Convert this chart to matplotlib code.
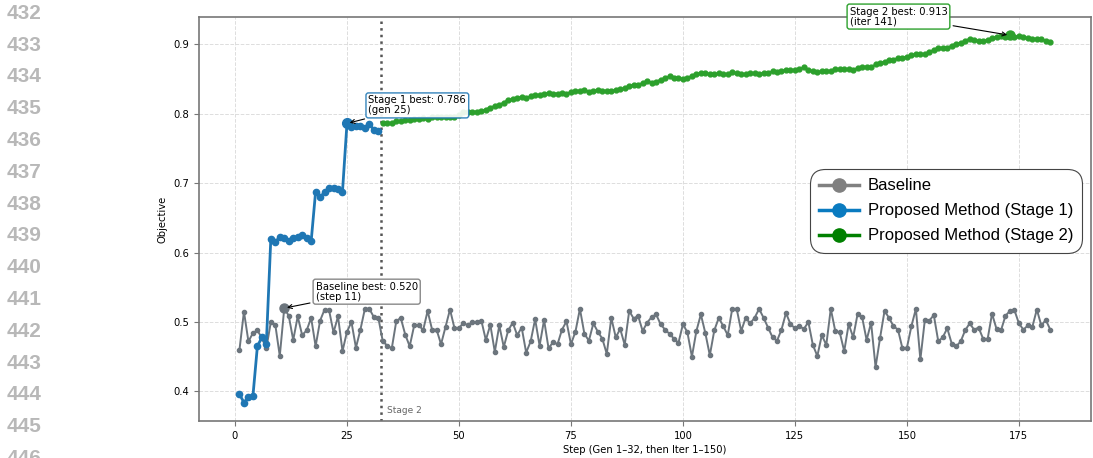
import numpy as np
import matplotlib
matplotlib.use("Agg")
import matplotlib.pyplot as plt
from matplotlib.lines import Line2D

# values
baseline = [
    0.460, 0.515, 0.472, 0.484, 0.488, 0.477, 0.462, 0.500, 0.496, 0.451,
    0.520, 0.509, 0.474, 0.508, 0.481, 0.488, 0.506, 0.465, 0.502, 0.518,
    0.517, 0.485, 0.508, 0.458, 0.486, 0.500, 0.463, 0.489, 0.519, 0.519,
    0.507, 0.506, 0.472, 0.466, 0.462, 0.501, 0.506, 0.482, 0.465, 0.495,
    0.496, 0.488, 0.516, 0.489, 0.489, 0.468, 0.493, 0.518, 0.491, 0.491,
    0.499, 0.495, 0.500, 0.500, 0.502, 0.474, 0.496, 0.457, 0.495, 0.464,
    0.488, 0.499, 0.481, 0.492, 0.456, 0.472, 0.504, 0.466, 0.503, 0.462,
    0.471, 0.468, 0.489, 0.501, 0.468, 0.486, 0.519, 0.483, 0.473, 0.498,
    0.486, 0.476, 0.454, 0.506, 0.478, 0.490, 0.467, 0.516, 0.505, 0.509,
    0.487, 0.499, 0.507, 0.511, 0.497, 0.489, 0.483, 0.476, 0.470, 0.497,
    0.485, 0.450, 0.487, 0.511, 0.484, 0.452, 0.488, 0.506, 0.494, 0.481,
    0.519, 0.519, 0.487, 0.506, 0.498, 0.506, 0.519, 0.506, 0.492, 0.478,
    0.473, 0.489, 0.513, 0.497, 0.491, 0.494, 0.490, 0.500, 0.467, 0.451,
    0.481, 0.467, 0.519, 0.487, 0.485, 0.458, 0.497, 0.478, 0.512, 0.507,
    0.474, 0.499, 0.435, 0.477, 0.516, 0.506, 0.494, 0.489, 0.462, 0.463,
    0.494, 0.519, 0.446, 0.503, 0.502, 0.510, 0.472, 0.478, 0.491, 0.469,
    0.465, 0.472, 0.488, 0.498, 0.489, 0.492, 0.476, 0.475, 0.512, 0.490,
    0.488, 0.509, 0.516, 0.517, 0.498, 0.489, 0.495, 0.493, 0.518, 0.495,
    0.503, 0.489,
]

stage1 = [
    0.396, 0.384, 0.392, 0.393, 0.465, 0.478, 0.469, 0.620, 0.615, 0.623,
    0.621, 0.616, 0.621, 0.623, 0.625, 0.621, 0.616, 0.688, 0.680, 0.687,
    0.693, 0.693, 0.691, 0.688, 0.786, 0.781, 0.783, 0.782, 0.779, 0.785,
    0.777, 0.775,
]

stage2 = [
    0.786, 0.786, 0.787, 0.789, 0.790, 0.791, 0.791, 0.792, 0.792, 0.794,
    0.793, 0.795, 0.795, 0.795, 0.796, 0.796, 0.796, 0.798, 0.802, 0.803,
    0.803, 0.803, 0.804, 0.806, 0.809, 0.811, 0.813, 0.816, 0.820, 0.821,
    0.823, 0.824, 0.823, 0.825, 0.827, 0.827, 0.828, 0.830, 0.829, 0.829,
    0.830, 0.828, 0.832, 0.833, 0.833, 0.834, 0.832, 0.833, 0.834, 0.833,
    0.833, 0.833, 0.834, 0.835, 0.837, 0.840, 0.842, 0.842, 0.844, 0.847,
    0.845, 0.846, 0.849, 0.851, 0.854, 0.852, 0.852, 0.850, 0.851, 0.855,
    0.857, 0.859, 0.858, 0.857, 0.857, 0.858, 0.857, 0.857, 0.860, 0.858,
    0.857, 0.857, 0.858, 0.858, 0.857, 0.859, 0.859, 0.861, 0.860, 0.862,
    0.863, 0.863, 0.863, 0.864, 0.867, 0.863, 0.861, 0.860, 0.861, 0.861,
    0.862, 0.864, 0.864, 0.864, 0.864, 0.863, 0.866, 0.867, 0.868, 0.867,
    0.871, 0.873, 0.875, 0.877, 0.878, 0.880, 0.881, 0.882, 0.884, 0.886,
    0.886, 0.886, 0.889, 0.892, 0.895, 0.895, 0.895, 0.898, 0.901, 0.902,
    0.905, 0.908, 0.906, 0.905, 0.905, 0.906, 0.909, 0.911, 0.912, 0.911,
    0.913, 0.911, 0.912, 0.910, 0.909, 0.908, 0.908, 0.907, 0.905, 0.903,
]

gutter_lines = list(range(432, 447))

n1 = len(stage1)
steps_all = np.arange(1, len(baseline) + 1)
steps1 = np.arange(1, n1 + 1)
steps2 = np.arange(n1 + 1, n1 + len(stage2) + 1)

c_base = '#6c757d'
c_s1 = '#1f77b4'
c_s2 = '#2ca02c'

fig = plt.figure(figsize=(10.93, 4.58), dpi=100)
ax = fig.add_axes([0.182, 0.081, 0.816, 0.882])

# editor line numbers on the left (the last one is cut by the bottom edge, as in the source)
for i, num in enumerate(gutter_lines):
    fig.text(0.006, 1 - (13.3 + 31.8 * i) / 458, str(num), ha='left', va='center',
             fontsize=15, fontweight='bold', color='#b8b8b8',
             family='Liberation Sans')

ax.plot(steps_all, baseline, color=c_base, lw=1.4, marker='o', ms=3, zorder=2)
ax.plot(steps1, stage1, color=c_s1, lw=2, marker='o', ms=4.5, zorder=3)
ax.plot(steps2, stage2, color=c_s2, lw=1.5, marker='o', ms=3.5, zorder=3)

ax.axvline(n1 + 0.5, color='#555555', ls=':', lw=1.8, zorder=1)
ax.text(n1 + 2, 0.372, 'Stage 2', fontsize=6.5, color='#666666', ha='left', va='center')

# best points
b_i = int(np.argmax(baseline))
s1_i = int(np.argmax(stage1))
s2_i = int(np.argmax(stage2))
ax.plot(steps_all[b_i], baseline[b_i], 'o', color=c_base, ms=6.5, zorder=4)
ax.plot(steps1[s1_i], stage1[s1_i], 'o', color=c_s1, ms=7, zorder=4)
ax.plot(steps2[s2_i], stage2[s2_i], 'o', color=c_s2, ms=6.5, zorder=4)

arrow = dict(arrowstyle='->', color='black', lw=0.8)
ax.annotate(f'Baseline best: {baseline[b_i]:.3f}\n(step {b_i + 1})',
            xy=(steps_all[b_i], baseline[b_i]), xytext=(18.0, 0.5437),
            ha='left', va='center', fontsize=7.2, linespacing=1.0,
            bbox=dict(boxstyle='round,pad=0.25', fc='white', ec='#888888', lw=1),
            arrowprops=arrow, zorder=6)
ax.annotate(f'Stage 1 best: {stage1[s1_i]:.3f}\n(gen {s1_i + 1})',
            xy=(steps1[s1_i], stage1[s1_i]), xytext=(29.8, 0.812),
            ha='left', va='center', fontsize=7.2, linespacing=1.0,
            bbox=dict(boxstyle='round,pad=0.25', fc='white', ec=c_s1, lw=1, alpha=0.9),
            arrowprops=arrow, zorder=6)
ax.annotate(f'Stage 2 best: {stage2[s2_i]:.3f}\n(iter {s2_i + 1})',
            xy=(steps2[s2_i], stage2[s2_i]), xytext=(137.2, 0.940),
            ha='left', va='center', fontsize=7.2, linespacing=1.0,
            bbox=dict(boxstyle='round,pad=0.25', fc='white', ec=c_s2, lw=1),
            arrowprops=arrow, annotation_clip=False, zorder=6)

ax.set_xticks([0, 25, 50, 75, 100, 125, 150, 175])
ax.set_yticks([0.4, 0.5, 0.6, 0.7, 0.8, 0.9])
ax.tick_params(labelsize=7.2, color='#777777')
ax.set_xlabel('Step (Gen 1–32, then Iter 1–150)', fontsize=7.2, labelpad=3)
ax.set_ylabel('Objective', fontsize=7.2)
ax.grid(True, ls='--', color='#dddddd', lw=0.7)
ax.set_axisbelow(True)
for sp in ax.spines.values():
    sp.set_color('#777777')
    sp.set_linewidth(1.2)

handles = [
    Line2D([], [], color='gray', lw=2.5, marker='o', ms=9.5),
    Line2D([], [], color='#0a7bc0', lw=2.5, marker='o', ms=9.5),
    Line2D([], [], color='green', lw=2.5, marker='o', ms=9.5),
]
labels = ['Baseline', 'Proposed Method (Stage 1)', 'Proposed Method (Stage 2)']
leg = ax.legend(handles, labels, loc='center right',
                prop={'family': 'Liberation Sans', 'size': 12},
                frameon=True, fancybox=True, handlelength=2.4,
                borderpad=0.55, labelspacing=0.6, handletextpad=0.5,
                borderaxespad=0.5, bbox_to_anchor=(1.0, 0.52))
frame = leg.get_frame()
frame.set_boxstyle('round,pad=0,rounding_size=0.9')
frame.set_edgecolor('#444444')
frame.set_linewidth(0.8)
frame.set_alpha(1.0)

fig.savefig('out.png', dpi=100)
